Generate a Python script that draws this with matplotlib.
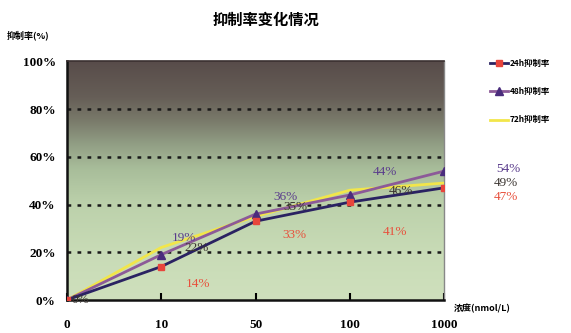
import numpy as np
import matplotlib
matplotlib.use("Agg")
import matplotlib.pyplot as plt
from matplotlib.colors import LinearSegmentedColormap

plt.rcParams['font.family'] = ['Liberation Serif', 'Noto Sans CJK SC', 'DejaVu Sans']

categories = ["0", "10", "50", "100", "1000"]
series_names = ["24h抑制率", "48h抑制率", "72h抑制率"]
v24 = [0, 14, 33, 41, 47]
v48 = [0, 19, 36, 44, 54]
v72 = [0, 22, 35, 46, 49]
y_ticks = [0, 20, 40, 60, 80, 100]
title = "抑制率变化情况"
ylabel = "抑制率(%)"
xlabel = "浓度(nmol/L)"

fig = plt.figure(figsize=(5.71, 3.33), dpi=100)
ax = fig.add_axes([0.117, 0.099, 0.661, 0.717])
x = np.arange(len(categories))
ax.set_xlim(0, len(categories) - 1)
ax.set_ylim(0, 100)

# gradient background
stops = [(0.0, "#cfe0bd"), (0.2, "#c8dbb6"), (0.4, "#bcd1ab"), (0.55, "#a8bd9a"),
         (0.65, "#929f85"), (0.75, "#7a7b6b"), (0.85, "#665e57"), (1.0, "#584c4a")]
cmap = LinearSegmentedColormap.from_list("bg", stops)
grad = np.linspace(0, 1, 256).reshape(-1, 1)
ax.imshow(grad, aspect="auto", cmap=cmap, origin="lower",
          extent=[0, len(categories) - 1, 0, 100], zorder=0)

for yv in y_ticks[1:-1]:
    ax.axhline(yv, color="#1a1a1a", linestyle=(0, (1.5, 2.5)), linewidth=1.8, zorder=1)

ax.plot(x, v72, color="#f2e64a", linewidth=2, zorder=3)
ax.plot(x, v48, color="#8c5a98", linewidth=2, marker="^", markersize=6,
        markerfacecolor="#4a2c7c", markeredgecolor="#4a2c7c", zorder=4)
ax.plot(x, v24, color="#2a2262", linewidth=2, marker="s", markersize=5,
        markerfacecolor="#e8453c", markeredgecolor="#e8453c", zorder=5)

lab_style = dict(textcoords="offset pixels", fontsize=9.5,
                 ha="center", va="center", annotation_clip=False, zorder=6)
off24 = [(14, 0), (37, -17), (39, -14), (45, -30), (62, -9)]
off48 = [(14, 0), (23, 17), (30, 17), (35, 23), (64, 2)]
off72 = [(14, 0), (35, 0), (40, 9), (51, -1), (62, 0)]
for i in range(len(categories)):
    if i > 0:
        ax.annotate(f"{v24[i]}%", (x[i], v24[i]), xytext=off24[i], color="#e8503c", **lab_style)
        ax.annotate(f"{v48[i]}%", (x[i], v48[i]), xytext=off48[i], color="#5a3c8c", **lab_style)
    ax.annotate(f"{v72[i]}%", (x[i], v72[i]), xytext=off72[i], color="#3a3430", **lab_style)

ax.set_xticks(x)
ax.set_xticklabels(categories)
ax.set_yticks(y_ticks)
ax.set_yticklabels([f"{t}%" for t in y_ticks])
ax.tick_params(axis="x", direction="in", length=5, width=1.5, pad=14, labelsize=9.5)
ax.tick_params(axis="y", length=0, pad=8, labelsize=9.5)
for lbl in ax.get_xticklabels() + ax.get_yticklabels():
    lbl.set_fontweight("bold")
for s in ["left", "bottom"]:
    ax.spines[s].set_linewidth(1.8)
    ax.spines[s].set_color("#111111")
ax.spines["top"].set_color("#3a3030")
ax.spines["top"].set_linewidth(1.2)
ax.spines["right"].set_color("#888888")
ax.spines["right"].set_linewidth(1.0)

fig.text(0.465, 0.94, title, ha="center", va="center", fontsize=11,
         fontweight="bold", family=["Noto Sans CJK SC"])
fig.text(0.012, 0.895, ylabel, ha="left", va="center", fontsize=6.5,
         fontweight="bold", family=["Noto Sans CJK SC"])
fig.text(0.795, 0.075, xlabel, ha="left", va="center", fontsize=6.5,
         fontweight="bold", family=["Noto Sans CJK SC"])

handles = ax.get_lines()[-3:]
h24, h48, h72 = handles[2], handles[1], handles[0]
leg = fig.legend([h24, h48, h72], series_names, loc="upper left",
                 bbox_to_anchor=(0.845, 0.845), frameon=False,
                 handlelength=2.2, handletextpad=0.2, labelspacing=2.3,
                 prop={"family": ["Noto Sans CJK SC"], "size": 6, "weight": "bold"})

fig.savefig("out.png", dpi=100, facecolor="white")
